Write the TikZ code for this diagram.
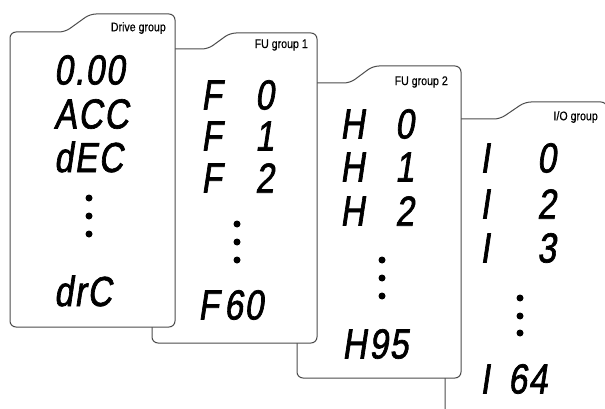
\documentclass[tikz,border=0pt]{standalone}
\usepackage{fontspec}
\newfontfamily\segfont{Liberation Sans}[FakeSlant=0.15, FakeStretch=0.8, FakeBold=1.6, LetterSpace=4]
\newfontfamily\grpfont{Liberation Sans}[FakeStretch=0.85, FakeBold=0.4]

\begin{document}
\begin{tikzpicture}[x=1pt, y=-1pt,
  card/.style={draw=black!70, line width=1pt, fill=white, rounded corners=6pt},
  seg/.style={font=\segfont\fontsize{42}{42}\selectfont, anchor=west, inner sep=0pt},
  grp/.style={font=\grpfont\fontsize{12.5}{13}\selectfont, anchor=east, inner sep=0pt},
  vdot/.style={fill=black}]
\clip (0,0) rectangle (605,409);

% Cards, back to front
\draw[card] (445,420) -- (445,119) -- (500,119) -- (525,102) -- (607,102) -- (607,420) -- cycle;
\draw[card] (297,378) -- (297,83) -- (350,83) -- (373,66) -- (461,66) -- (461,378) -- cycle;
\draw[card] (152,343) -- (152,49) -- (208,49) -- (230,33) -- (317,33) -- (317,343) -- cycle;
\draw[card] (10,327) -- (10,32) -- (65,32) -- (90,14) -- (175,14) -- (175,327) -- cycle;

% Group labels
\node[grp] (gdr) at (166,28) {Drive group};
\node[grp] (gfa) at (308,45) {FU group 1};
\node[grp] (gfb) at (448,82) {FU group 2};
\node[grp] (gio) at (598,117) {I/O group};

% Drive group
\node[seg] (dr1) at (54,70) {0.00};
\node[seg] (dr2) at (54,114) {ACC};
\node[seg] (dr3) at (54,157) {dEC};
\node[seg] (dr4) at (54,291) {drC};
\foreach \y in {198,216,234} \fill[vdot] (89,\y) circle (3.5pt);

% FU group 1
\node[seg] (fa1) at (201,95) {F};   \node[seg] (fa1n) at (255,95) {0};
\node[seg] (fa2) at (201,136) {F};  \node[seg] (fa2n) at (255,136) {1};
\node[seg] (fa3) at (201,178) {F};  \node[seg] (fa3n) at (255,178) {2};
\node[seg] (fa4) at (198,305) {F};  \node[seg] (fa4n) at (224,305) {60};
\foreach \y in {224,242,260} \fill[vdot] (237,\y) circle (3.5pt);

% FU group 2
\node[seg] (fb1) at (340,124) {H};  \node[seg] (fb1n) at (395,124) {0};
\node[seg] (fb2) at (340,167) {H};  \node[seg] (fb2n) at (395,167) {1};
\node[seg] (fb3) at (340,211) {H};  \node[seg] (fb3n) at (395,211) {2};
\node[seg] (fb4) at (342,344) {H};  \node[seg] (fb4n) at (369,344) {95};
\foreach \y in {260,278,296} \fill[vdot] (382,\y) circle (3.5pt);

% I/O group
\node[seg] (io1) at (480,158) {I};  \node[seg] (io1n) at (537,158) {0};
\node[seg] (io2) at (480,204) {I};  \node[seg] (io2n) at (537,204) {2};
\node[seg] (io3) at (480,248) {I};  \node[seg] (io3n) at (537,248) {3};
\node[seg] (io4) at (480,379) {I};  \node[seg] (io4n) at (508,379) {64};
\foreach \y in {298,316,333} \fill[vdot] (520,\y) circle (3.5pt);
\end{tikzpicture}
\end{document}
